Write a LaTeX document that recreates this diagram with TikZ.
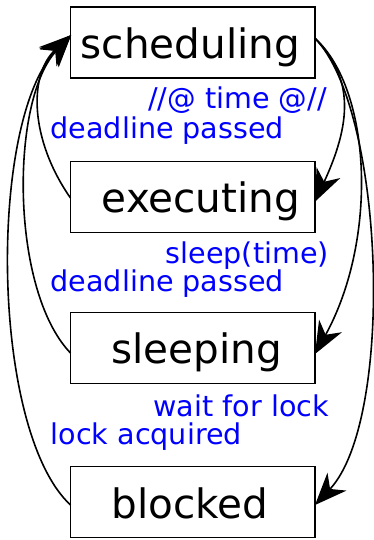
\documentclass[tikz,border=0pt]{standalone}
\usepackage{fontspec}
\setmainfont{DejaVu Sans}
\usetikzlibrary{arrows.meta}
\definecolor{lblblue}{RGB}{0,0,255}
\tikzset{
  statebox/.style={draw=black, line width=1.1pt, minimum width=244.5pt, minimum height=71pt, inner sep=0pt},
  statetext/.style={anchor=base, inner sep=0pt, font=\fontsize{40.5}{48}\selectfont},
  lbl/.style={inner sep=0pt, text=lblblue, font=\fontsize{28.6}{34}\selectfont},
  edge/.style={line width=1.6pt, -{Stealth[length=32pt,width=26pt,inset=10pt]}}
}
\begin{document}
\begin{tikzpicture}[x=1pt,y=-1pt]
\useasboundingbox (0,0) rectangle (374,540);
% boxes
\node[statebox] (sch) at (192.75,42.5) {};
\node[statebox] (exe) at (192.75,197.3) {};
\node[statebox] (slp) at (192.75,347.8) {};
\node[statebox, minimum height=70.8pt] (blk) at (192.75,502.1) {};
% texts
\node[statetext] (tsch) at (190.4,58.3) {scheduling};
\node[statetext] (texe) at (201,212.9) {executing};
\node[statetext] (tslp) at (196.7,363.3) {sleeping};
\node[statetext] (tblk) at (190,518.3) {blocked};
% labels
\node[lbl, anchor=base east] (l1) at (327,108.7) {//@ time @//};
\node[lbl, anchor=base west] (l2) at (50.5,138.3) {deadline passed};
\node[lbl, anchor=base east] (l3) at (329,263.3) {sleep(time)};
\node[lbl, anchor=base west] (l4) at (50.5,291.5) {deadline passed};
\node[lbl, anchor=base east] (l5) at (329,416) {wait for lock};
\node[lbl, anchor=base west] (l6) at (50.5,444) {lock acquired};
% anchor coordinates
\coordinate (schR) at (315,38.3);
\coordinate (schL) at (71.2,35);
\coordinate (exeR) at (315,201.7);
\coordinate (slpR) at (315,354);
\coordinate (blkR) at (315,505);
\coordinate (exeL) at (70.5,198);
\coordinate (slpL) at (70.5,353);
\coordinate (blkL) at (70.5,505);
% right-side edges
\draw[edge] (schR) .. controls (350,75) and (355,115) .. (exeR);
\draw[edge] (schR) .. controls (372,90) and (378,240) .. (slpR);
\draw[edge] (schR) .. controls (385,110) and (395,420) .. (blkR);
% left-side edges
\draw[edge] (exeL) .. controls (30,140) and (28,75) .. (schL);
\draw[edge] (slpL) .. controls (10,290) and (10,100) .. (schL);
\draw[edge] (blkL) .. controls (-10,430) and (-12,120) .. (schL);
\end{tikzpicture}
\end{document}
